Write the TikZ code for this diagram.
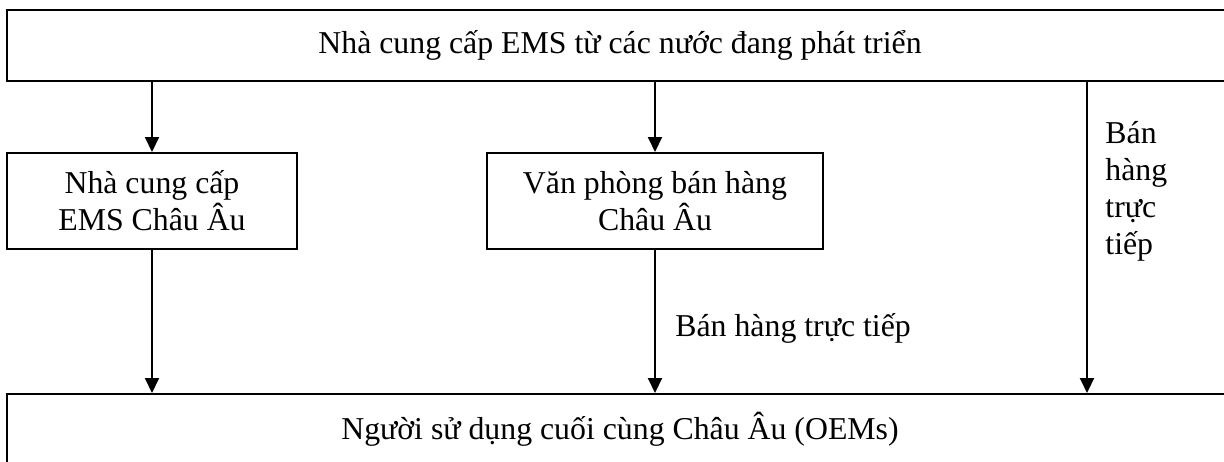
\documentclass[tikz,border=0pt]{standalone}
\usepackage{fontspec}
\setmainfont{Liberation Serif}
\usetikzlibrary{arrows.meta}
\begin{document}
\begin{tikzpicture}[x=0.5pt,y=-0.5pt,
  every node/.style={font=\fontsize{15.9pt}{18.5pt}\selectfont},
  box/.style={draw,line width=1pt,rectangle,inner sep=0pt,align=center},
  arr/.style={line width=1pt,-{Triangle[width=7pt,length=7.5pt]}},
  lbl/.style={inner sep=0pt,align=left}]
\useasboundingbox (0,0) rectangle (1224,461);
\node[box,minimum width=613pt,minimum height=35.5pt] (top) at (620,45.5) {Nhà cung cấp EMS từ các nước đang phát triển};
\node[box,minimum width=613pt,minimum height=35.5pt] (bot) at (620,429.5) {Người sử dụng cuối cùng Châu Âu (OEMs)};
\node[box,minimum width=145pt,minimum height=48pt] (left) at (152,201) {Nhà cung cấp\\EMS Châu Âu};
\node[box,minimum width=168pt,minimum height=48pt] (mid) at (655,201) {Văn phòng bán hàng\\Châu Âu};
\coordinate (r) at (1087,0);
\draw[arr] (top.south -| left.north) -- (left.north);
\draw[arr] (top.south -| mid.north) -- (mid.north);
\draw[arr] (left.south) -- (bot.north -| left.south);
\draw[arr] (mid.south) -- (bot.north -| mid.south);
\draw[arr] (top.south -| r) -- (bot.north -| r);
\node[lbl,anchor=base west] (lm) at (675,336) {Bán hàng trực tiếp};
\node[lbl,anchor=base west] (lr) at (1105,254) {Bán\\hàng\\trực\\tiếp};
\end{tikzpicture}
\end{document}
